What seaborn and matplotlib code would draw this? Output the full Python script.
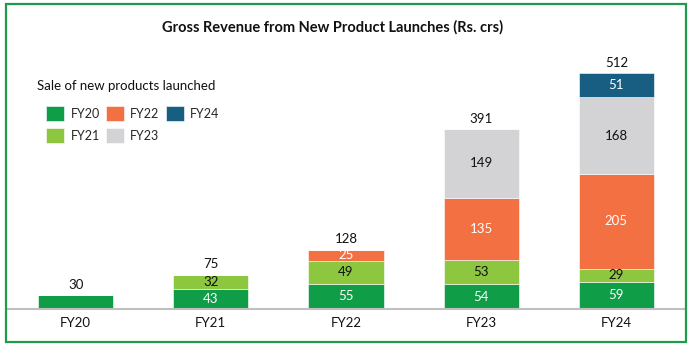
import matplotlib
matplotlib.use("Agg")
import matplotlib.pyplot as plt
import seaborn as sns
import numpy as np
import pandas as pd
from matplotlib.patches import Rectangle

years = ["FY20", "FY21", "FY22", "FY23", "FY24"]
series_names = ["FY20", "FY21", "FY22", "FY23", "FY24"]
s_fy20 = [30, 43, 55, 54, 59]
s_fy21 = [0, 32, 49, 53, 29]
s_fy22 = [0, 0, 25, 135, 205]
s_fy23 = [0, 0, 0, 149, 168]
s_fy24 = [0, 0, 0, 0, 51]
totals = [30, 75, 128, 391, 512]
series_values = [s_fy20, s_fy21, s_fy22, s_fy23, s_fy24]

colors = ["#0F9D48", "#8DC63F", "#F37042", "#D3D3D5", "#175E82"]
text_colors = ["white", "#111111", "white", "#111111", "white"]

sns.set_theme(style="white")
plt.rcParams["font.family"] = ["Lato", "DejaVu Sans"]

fig = plt.figure(figsize=(6.93, 3.45), dpi=100)
ax = fig.add_axes([8 / 693, 36 / 345, 676 / 693, 0.80])

bottom = np.zeros(len(years))
for i, (name, vals) in enumerate(zip(series_names, series_values)):
    df = pd.DataFrame({"year": years, "value": vals})
    sns.barplot(data=df, x="year", y="value", bottom=bottom, color=colors[i],
                width=0.556, label=name, ax=ax, saturation=1,
                edgecolor="white", linewidth=0.4)
    cont = ax.containers[-1]
    labels = []
    for j, v in enumerate(vals):
        if v == 0 or (i == 0 and j == 0):
            labels.append("")
        else:
            labels.append(str(v))
    ax.bar_label(cont, labels=labels, label_type="center", color=text_colors[i],
                 fontsize=9.5)
    bottom = bottom + np.array(vals)

for j, t in enumerate(totals):
    ax.annotate(str(t), xy=(j, bottom[j]), xytext=(0, 3), textcoords="offset points",
                ha="center", va="bottom", fontsize=9.5, color="#111111")

ax.set_xlim(-0.5, 4.5)
ax.set_ylim(0, 600)
ax.set_xlabel("")
ax.set_ylabel("")
ax.set_yticks([])
for s in ["top", "right", "left"]:
    ax.spines[s].set_visible(False)
ax.spines["bottom"].set_color("#BFBFBF")
ax.spines["bottom"].set_linewidth(1.5)
ax.tick_params(axis="x", length=0, pad=6, labelsize=9.5, colors="#111111")

leg = ax.legend(ncol=3, loc="upper left",
                bbox_to_anchor=(46 / 693, 1 - 106 / 345), bbox_transform=fig.transFigure,
                frameon=False, fontsize=9, borderpad=0, borderaxespad=0,
                handlelength=1.45, handleheight=1.5, columnspacing=0.5,
                handletextpad=0.5, labelspacing=0.55)

fig.text(37 / 693, 1 - 86 / 345, "Sale of new products launched", ha="left",
         va="center", fontsize=9.5, color="#111111")

fig.text(0.48, 1 - 27 / 345, "Gross Revenue from New Product Launches (Rs. crs)",
         ha="center", va="center", fontsize=10.5, fontweight="bold", color="#111111")

fig.patches.append(Rectangle((6 / 693, 3 / 345), 680 / 693, 338 / 345,
                             transform=fig.transFigure, fill=False,
                             edgecolor="#1E9B4B", linewidth=1.6))

fig.savefig("out.png", dpi=100)
